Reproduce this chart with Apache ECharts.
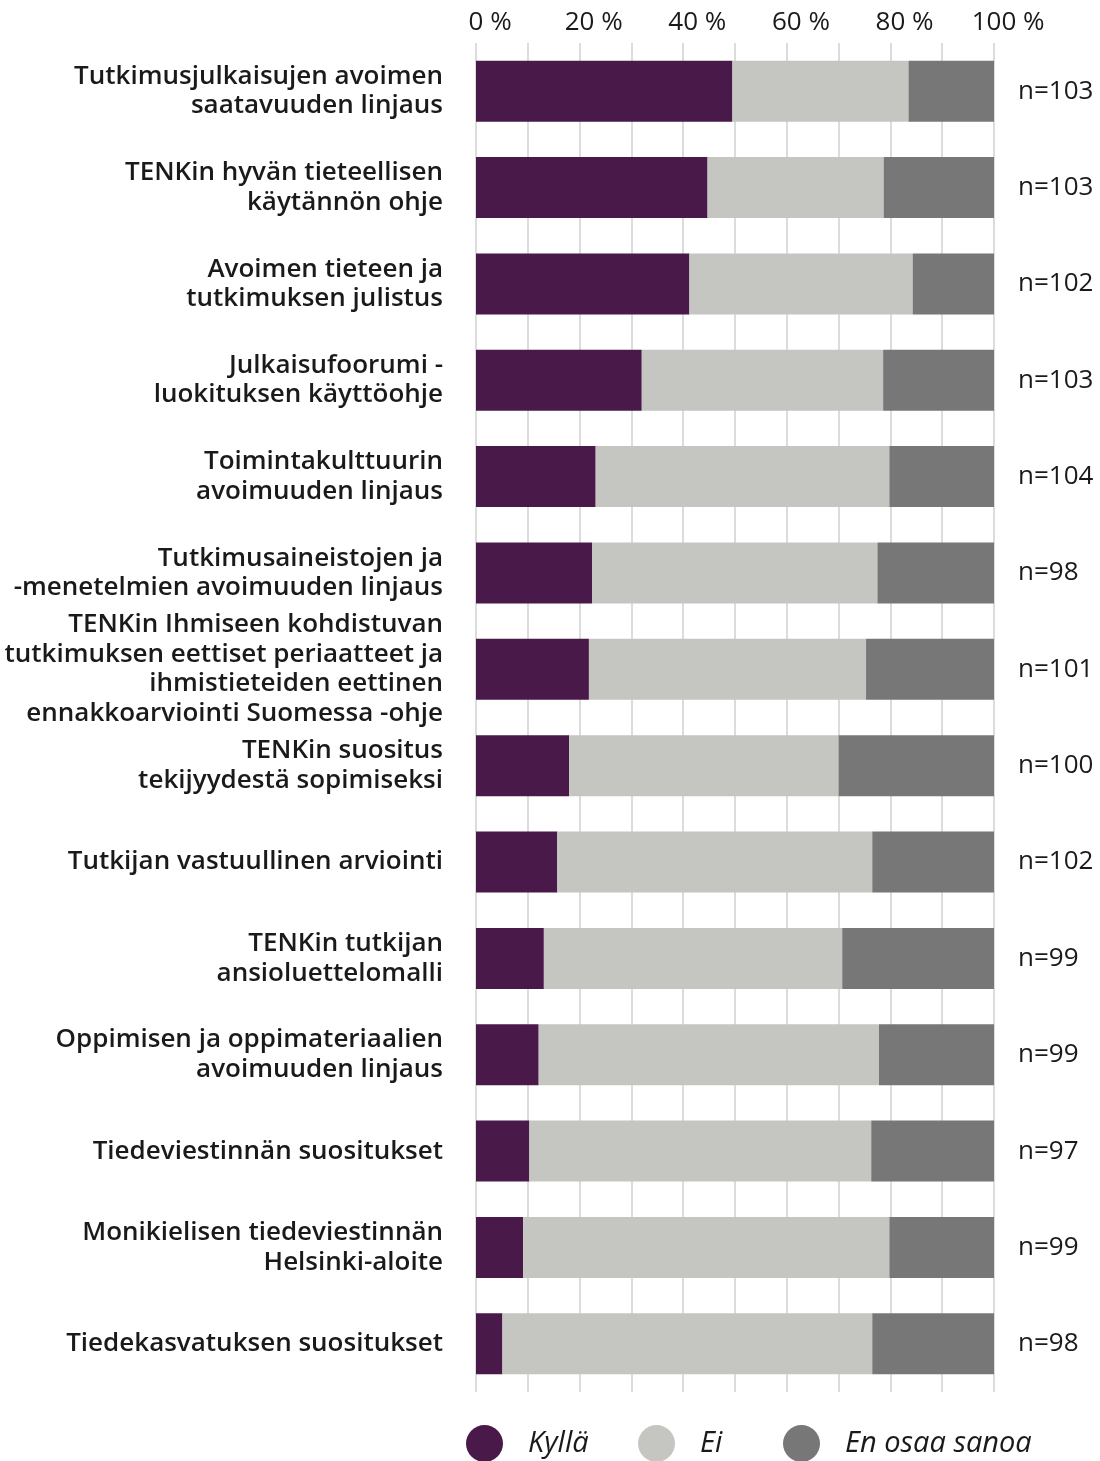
<!DOCTYPE html>
<html>
<head>
<meta charset="utf-8">
<script src="https://cdn.jsdelivr.net/npm/echarts@6/dist/echarts.min.js"></script>
<style>
html,body{margin:0;padding:0;background:#fff;}
#chart{width:1100px;height:1461px;}
</style>
</head>
<body>
<div id="chart"></div>
<script>
const categories = [
  "Tutkimusjulkaisujen avoimen\nsaatavuuden linjaus",
  "TENKin hyvän tieteellisen\nkäytännön ohje",
  "Avoimen tieteen ja\ntutkimuksen julistus",
  "Julkaisufoorumi -\nluokituksen käyttöohje",
  "Toimintakulttuurin\navoimuuden linjaus",
  "Tutkimusaineistojen ja\n-menetelmien avoimuuden linjaus",
  "TENKin Ihmiseen kohdistuvan\ntutkimuksen eettiset periaatteet ja\nihmistieteiden eettinen\nennakkoarviointi Suomessa -ohje",
  "TENKin suositus\ntekijyydestä sopimiseksi",
  "Tutkijan vastuullinen arviointi",
  "TENKin tutkijan\nansioluettelomalli",
  "Oppimisen ja oppimateriaalien\navoimuuden linjaus",
  "Tiedeviestinnän suositukset",
  "Monikielisen tiedeviestinnän\nHelsinki-aloite",
  "Tiedekasvatuksen suositukset"
];
const seriesNames = ["Kyllä", "Ei", "En osaa sanoa"];
const kylla = [49.5, 44.7, 41.2, 32.0, 23.1, 22.4, 21.8, 18.0, 15.7, 13.1, 12.1, 10.3, 9.1, 5.1];
const ei    = [34.0, 34.0, 43.1, 46.6, 56.7, 55.1, 53.5, 52.0, 60.8, 57.6, 65.7, 66.0, 70.7, 71.4];
const eos   = [16.5, 21.3, 15.7, 21.4, 20.2, 22.5, 24.7, 30.0, 23.5, 29.3, 22.2, 23.7, 20.2, 23.5];
const nValues = [103, 103, 102, 103, 104, 98, 101, 100, 102, 99, 99, 97, 99, 98];
const tickLabels = ["0 %", "20 %", "40 %", "60 %", "80 %", "100 %"];

const colors = ["#491949", "#c5c6c1", "#777777"];
const FONT = "'Open Sans', 'Noto Sans', sans-serif";

const chart = echarts.init(document.getElementById('chart'), null, {renderer: 'canvas'});
const dataSets = [kylla, ei, eos];
const series = seriesNames.map((name, i) => ({
  name: name,
  type: 'bar',
  stack: 'total',
  barWidth: 61,
  data: dataSets[i],
  itemStyle: {color: colors[i]},
  emphasis: {disabled: true},
  label: i === 2 ? {
    show: true,
    position: 'right',
    distance: 24,
    fontFamily: FONT,
    fontSize: 26,
    color: '#1a1a1a',
    formatter: p => 'n=' + nValues[p.dataIndex]
  } : {show: false}
}));

const legendLefts = [466, 638, 783];
const legends = seriesNames.map((name, i) => ({
  data: [name],
  left: legendLefts[i],
  top: 1425,
  padding: 0,
  icon: 'circle',
  itemWidth: 37,
  itemHeight: 37,
  selectedMode: false,
  textStyle: {
    fontFamily: FONT,
    fontSize: 29,
    fontStyle: 'italic',
    color: '#1a1a1a',
    padding: [0, 0, 0, 20]
  }
}));

chart.setOption({
  animation: false,
  backgroundColor: '#fff',
  grid: {left: 476, right: 106, top: 43, bottom: 69, containLabel: false},
  xAxis: {
    type: 'value',
    position: 'top',
    min: 0,
    max: 100,
    interval: 10,
    axisLine: {show: false},
    axisTick: {show: false},
    splitLine: {show: true, lineStyle: {color: '#dcdcdc', width: 2}},
    axisLabel: {
      fontFamily: FONT,
      fontSize: 26,
      color: '#1a1a1a',
      margin: 7,
      formatter: v => (v % 20 === 0) ? '{h| %}' + tickLabels[v / 20] : '',
      rich: {
        h: {fontFamily: FONT, fontSize: 26, color: 'rgba(0,0,0,0)'}
      }
    }
  },
  yAxis: {
    type: 'category',
    inverse: true,
    data: categories,
    axisLine: {show: false},
    axisTick: {show: false},
    axisLabel: {
      fontFamily: FONT,
      fontSize: 26,
      fontWeight: 600,
      lineHeight: 29.5,
      color: '#1a1a1a',
      margin: 33,
      align: 'right'
    }
  },
  legend: legends,
  series: series
});
</script>
</body>
</html>
